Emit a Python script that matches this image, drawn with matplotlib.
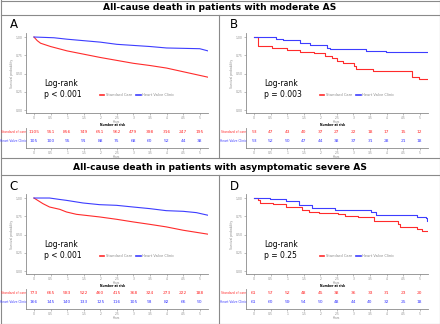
import numpy as np
import matplotlib
matplotlib.use('Agg')
import matplotlib.pyplot as plt
from matplotlib.lines import Line2D

W, H = 440, 324

years = [0, 0.5, 1, 1.5, 2, 2.5, 3, 3.5, 4, 4.5, 5]
year_labels = ['0', '0.5', '1', '1.5', '2', '2.5', '3', '3.5', '4', '4.5', '5']

# Panel A - moderate AS (large cohort, curves drawn as lines)
a_sc_t = [0, 0.1, 0.2, 0.5, 1, 1.5, 2, 2.5, 3, 3.5, 4, 4.5, 5, 5.25]
a_sc_s = [1, 0.95, 0.915, 0.87, 0.81, 0.765, 0.72, 0.68, 0.64, 0.61, 0.575, 0.525, 0.475, 0.45]
a_hv_t = [0, 0.6, 1, 1.5, 2, 2.5, 3, 3.5, 4, 4.5, 5, 5.25]
a_hv_s = [1, 0.99, 0.97, 0.95, 0.93, 0.9, 0.885, 0.87, 0.85, 0.845, 0.84, 0.81]
a_risk_sc = [1105, 951, 856, 749, 651, 562, 479, 398, 316, 247, 195]
a_risk_hv = [105, 100, 95, 91, 88, 75, 68, 60, 52, 44, 38]

# Panel B - moderate AS, matched (step curves)
b_sc_t = [0, 0.12, 0.55, 1.0, 1.4, 1.8, 2.14, 2.34, 2.49, 2.68, 3.03, 3.08, 3.58, 4.77, 4.97, 5.28]
b_sc_s = [1, 0.88, 0.85, 0.82, 0.80, 0.78, 0.745, 0.71, 0.675, 0.64, 0.605, 0.56, 0.535, 0.45, 0.42, 0.42]
b_hv_t = [0, 0.65, 0.89, 1.39, 1.69, 2.19, 2.29, 3.38, 3.97, 5.28]
b_hv_s = [1, 0.977, 0.953, 0.92, 0.884, 0.851, 0.837, 0.814, 0.79, 0.79]
b_risk_sc = [53, 47, 43, 40, 37, 27, 22, 18, 17, 15, 12]
b_risk_hv = [53, 52, 50, 47, 44, 38, 37, 31, 28, 21, 18]

# Panel C - asymptomatic severe AS
c_sc_t = [0, 0.27, 0.47, 0.78, 0.98, 1.28, 1.98, 2.49, 2.99, 3.49, 3.99, 4.5, 5.0, 5.25]
c_sc_s = [1, 0.923, 0.877, 0.845, 0.809, 0.777, 0.741, 0.709, 0.673, 0.64, 0.605, 0.559, 0.523, 0.505]
c_hv_t = [0, 0.47, 0.78, 0.98, 1.48, 1.98, 2.49, 2.99, 3.49, 3.99, 4.5, 4.9, 5.25]
c_hv_s = [1, 1.0, 0.98, 0.968, 0.932, 0.909, 0.9, 0.877, 0.855, 0.827, 0.818, 0.8, 0.764]
c_risk_sc = [773, 665, 583, 522, 460, 415, 368, 324, 273, 222, 188]
c_risk_hv = [166, 145, 140, 133, 125, 116, 105, 93, 82, 66, 50]

# Panel D - asymptomatic severe AS, matched
d_sc_t = [0, 0.12, 0.17, 0.56, 0.96, 1.46, 1.65, 1.95, 2.54, 2.74, 3.13, 3.63, 4.33, 4.42, 4.92, 5.07, 5.28]
d_sc_s = [1, 0.968, 0.933, 0.916, 0.88, 0.836, 0.813, 0.8, 0.782, 0.76, 0.738, 0.68, 0.649, 0.604, 0.578, 0.547, 0.547]
d_hv_t = [0, 0.47, 0.96, 1.35, 1.75, 2.45, 3.53, 3.68, 4.92, 5.2, 5.23, 5.26]
d_hv_s = [1, 0.987, 0.956, 0.902, 0.858, 0.836, 0.813, 0.769, 0.747, 0.724, 0.68, 0.68]
d_risk_sc = [61, 57, 52, 48, 45, 38, 36, 33, 31, 23, 20]
d_risk_hv = [61, 60, 59, 54, 50, 48, 44, 40, 32, 25, 18]

RED = '#ff2b2b'
BLUE = '#3d3dff'
GRAY = '#8a8a8a'


def px_axes(fig, x0, y0, x1, y1):
    return fig.add_axes([x0 / W, 1 - y1 / H, (x1 - x0) / W, (y1 - y0) / H])


def fig_text(fig, x, y, s, **kw):
    fig.text(x / W, 1 - y / H, s, **kw)


def style_axis(ax):
    for side in ['top', 'right']:
        ax.spines[side].set_visible(False)
    for side in ['left', 'bottom']:
        ax.spines[side].set_color(GRAY)
        ax.spines[side].set_linewidth(0.6)
    ax.tick_params(colors=GRAY, labelsize=2.2, length=1.5, width=0.4, pad=0.8)


def panel(fig, dx, dy, letter, sc, hv, step, pval, risk_sc, risk_hv):
    fig_text(fig, dx + 14, dy + 25, letter, fontsize=8.5, ha='center', va='center')

    ax = px_axes(fig, dx + 26, dy + 33, dx + 208, dy + 113)
    style_axis(ax)
    if step:
        ax.step(sc[0], sc[1], where='post', color=RED, lw=0.8)
        ax.step(hv[0], hv[1], where='post', color=BLUE, lw=0.8)
    else:
        ax.plot(sc[0], sc[1], color=RED, lw=0.8)
        ax.plot(hv[0], hv[1], color=BLUE, lw=0.8)
    ax.set_xlim(-0.24, 5.25)
    ax.set_ylim(-0.04, 1.055)
    ax.set_xticks(years)
    ax.set_xticklabels(year_labels)
    ax.set_yticks([0, 0.25, 0.5, 0.75, 1.0])
    ax.set_yticklabels(['0.00', '0.25', '0.50', '0.75', '1.00'])
    ax.set_xlabel('Years', fontsize=2.0, color=GRAY, labelpad=0.2)
    ax.set_ylabel('Survival probability', fontsize=2.2, color=GRAY, labelpad=1)
    ax.text(0.1, 0.30, 'Log-rank\n' + pval, fontsize=5.5, transform=ax.transAxes,
            va='center', ha='left', linespacing=1.2)
    ax.legend(handles=[Line2D([], [], color=RED, lw=1.2, label='Standard Care'),
                       Line2D([], [], color=BLUE, lw=1.2, label='Heart Valve Clinic')],
              loc='center', bbox_to_anchor=(0.61, 0.22), ncol=2, frameon=False,
              fontsize=2.6, handlelength=1.2, handletextpad=0.5, columnspacing=1.2,
              labelcolor=GRAY)

    fig_text(fig, dx + 113, dy + 125, 'Number at risk', fontsize=2.2,
             fontweight='bold', ha='center', va='center')

    tb = px_axes(fig, dx + 26, dy + 127.5, dx + 208, dy + 148)
    style_axis(tb)
    tb.set_xlim(-0.24, 5.25)
    tb.set_ylim(0, 2)
    tb.set_yticks([])
    tb.set_xticks(years)
    tb.set_xticklabels(year_labels)
    tb.set_xlabel('Years', fontsize=2.0, color=GRAY, labelpad=0.2)
    for t, n in zip(years, risk_sc):
        tb.text(t, 1.55, str(n), color=RED, fontsize=3.2, ha='center', va='center')
    for t, n in zip(years, risk_hv):
        tb.text(t, 0.7, str(n), color=BLUE, fontsize=3.2, ha='center', va='center')
    fig_text(fig, dx + 13.5, dy + 132, 'Standard of care', color=RED, fontsize=2.2,
             ha='center', va='center')
    fig_text(fig, dx + 13.5, dy + 141, 'Heart Valve Clinic', color=BLUE, fontsize=2.2,
             ha='center', va='center')


fig = plt.figure(figsize=(W / 100, H / 100), dpi=100)

# frame lines
def hline(y, x0=1, x1=439):
    fig.add_artist(Line2D([x0 / W, x1 / W], [1 - y / H, 1 - y / H], color=GRAY, lw=0.8))

def vline(x, y0, y1):
    fig.add_artist(Line2D([x / W, x / W], [1 - y0 / H, 1 - y1 / H], color=GRAY, lw=0.8))

hline(0.5); hline(323.5); vline(0.5, 0, 324); vline(439.5, 0, 324)
hline(15); hline(158); hline(175)
vline(219, 15, 158); vline(219, 175, 324)

fig_text(fig, 220, 7.5, 'All-cause death in patients with moderate AS', fontsize=6.6,
         fontweight='bold', ha='center', va='center')
fig_text(fig, 220, 167, 'All-cause death in patients with asymptomatic severe AS', fontsize=6.6,
         fontweight='bold', ha='center', va='center')

panel(fig, 0, 0, 'A', (a_sc_t, a_sc_s), (a_hv_t, a_hv_s), False, 'p < 0.001', a_risk_sc, a_risk_hv)
panel(fig, 220, 0, 'B', (b_sc_t, b_sc_s), (b_hv_t, b_hv_s), True, 'p = 0.003', b_risk_sc, b_risk_hv)
panel(fig, 0, 161, 'C', (c_sc_t, c_sc_s), (c_hv_t, c_hv_s), False, 'p < 0.001', c_risk_sc, c_risk_hv)
panel(fig, 220, 161, 'D', (d_sc_t, d_sc_s), (d_hv_t, d_hv_s), True, 'p = 0.25', d_risk_sc, d_risk_hv)

fig.savefig('out.png', dpi=100)
